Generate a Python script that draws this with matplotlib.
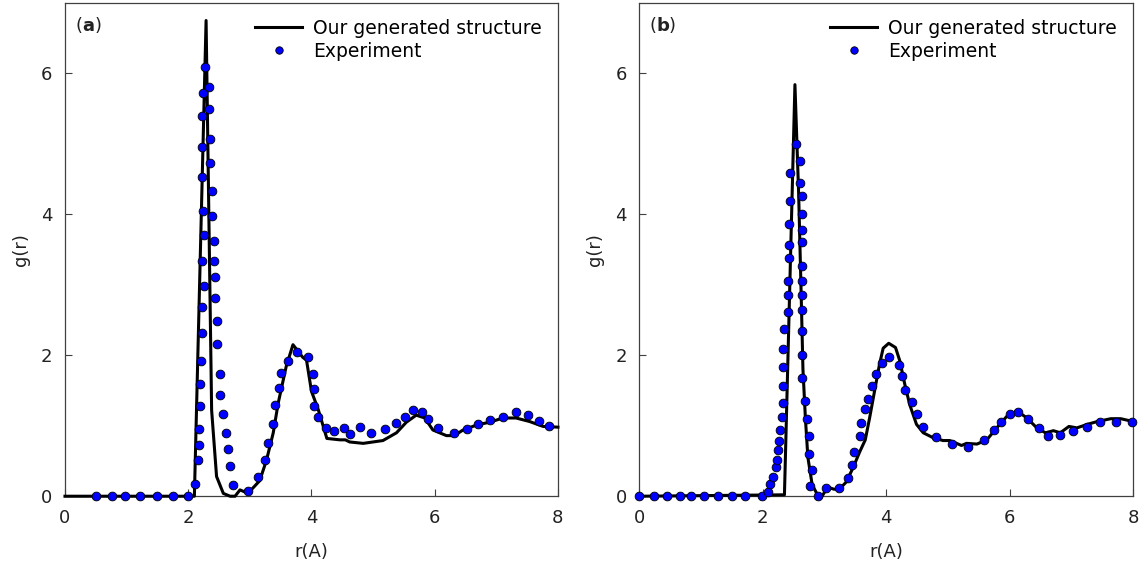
import matplotlib
matplotlib.use("Agg")
import matplotlib.pyplot as plt

# ---------------- panel (a) ----------------
r_sim_a = [0.0, 2.10, 2.29, 2.38, 2.46, 2.57, 2.68, 2.76, 2.84, 2.92, 3.00, 3.16,
           3.27, 3.38, 3.46, 3.59, 3.70, 3.86, 3.92, 4.00, 4.11, 4.25, 4.46, 4.55,
           4.62, 4.84, 5.00, 5.16, 5.38, 5.54, 5.70, 5.84, 5.97, 6.19, 6.32, 6.46,
           6.68, 6.89, 7.11, 7.32, 7.54, 7.76, 8.00]
g_sim_a = [0.0, 0.0, 6.75, 1.22, 0.28, 0.04, 0.0, 0.0, 0.09, 0.06, 0.07, 0.22,
           0.51, 0.90, 1.32, 1.84, 2.15, 1.97, 1.93, 1.49, 1.23, 0.82, 0.80, 0.80,
           0.77, 0.75, 0.77, 0.79, 0.90, 1.05, 1.15, 1.11, 0.94, 0.86, 0.86, 0.94,
           1.01, 1.05, 1.11, 1.11, 1.06, 0.99, 0.98]

r_exp_a = [0.51, 0.76, 0.97, 1.22, 1.49, 1.76, 1.99, 2.11,
           2.16, 2.18, 2.18, 2.19, 2.19, 2.21, 2.22, 2.22, 2.25, 2.23, 2.25, 2.24,
           2.23, 2.23, 2.23, 2.24, 2.28,
           2.34, 2.34, 2.36, 2.36, 2.39, 2.39, 2.42, 2.42, 2.43, 2.44, 2.47, 2.47,
           2.52, 2.52, 2.56, 2.61, 2.65, 2.68, 2.73, 2.97,
           3.14, 3.24, 3.30, 3.38, 3.41, 3.47, 3.51, 3.62, 3.77, 3.95, 4.03, 4.04,
           4.04, 4.11, 4.24, 4.36, 4.53, 4.63, 4.78, 4.97, 5.19, 5.38, 5.52, 5.65,
           5.80, 5.89, 6.05, 6.32, 6.53, 6.70, 6.90, 7.11, 7.32, 7.51, 7.70, 7.85]
g_exp_a = [0.0, 0.0, 0.0, 0.0, 0.0, 0.0, 0.0, 0.18,
           0.51, 0.72, 0.96, 1.28, 1.59, 1.92, 2.31, 2.68, 2.98, 3.34, 3.71, 4.05,
           4.53, 4.95, 5.39, 5.72, 6.09,
           5.81, 5.50, 5.07, 4.73, 4.33, 3.97, 3.62, 3.34, 3.11, 2.81, 2.49, 2.16,
           1.73, 1.43, 1.17, 0.90, 0.67, 0.43, 0.16, 0.08,
           0.27, 0.51, 0.75, 1.02, 1.30, 1.53, 1.75, 1.92, 2.05, 1.98, 1.74, 1.52,
           1.28, 1.12, 0.97, 0.92, 0.97, 0.88, 0.98, 0.90, 0.96, 1.04, 1.12, 1.23,
           1.20, 1.10, 0.97, 0.90, 0.95, 1.03, 1.08, 1.13, 1.19, 1.15, 1.07, 1.00]

# ---------------- panel (b) ----------------
r_sim_b = [0.0, 2.35, 2.52, 2.58, 2.62, 2.65, 2.69, 2.73, 2.80, 2.88, 2.96, 3.05,
           3.15, 3.24, 3.35, 3.46, 3.57, 3.66, 3.73, 3.81, 3.89, 3.95, 4.04, 4.15,
           4.22, 4.30, 4.38, 4.49, 4.60, 4.76, 4.92, 5.03, 5.14, 5.22, 5.30, 5.47,
           5.63, 5.79, 5.95, 6.12, 6.28, 6.44, 6.58, 6.71, 6.82, 6.96, 7.09, 7.26,
           7.42, 7.64, 7.80, 8.00]
g_sim_b = [0.0, 0.02, 5.84, 4.30, 2.90, 1.80, 1.10, 0.55, 0.16, 0.03, 0.0, 0.13,
           0.10, 0.10, 0.20, 0.40, 0.63, 0.80, 1.11, 1.49, 1.87, 2.10, 2.17, 2.11,
           1.92, 1.59, 1.30, 1.02, 0.90, 0.83, 0.79, 0.79, 0.75, 0.72, 0.75, 0.74,
           0.80, 0.97, 1.13, 1.21, 1.11, 0.97, 0.90, 0.93, 0.90, 0.99, 0.97, 1.02,
           1.06, 1.10, 1.10, 1.06]

r_exp_b = [0.0, 0.23, 0.45, 0.65, 0.83, 1.05, 1.28, 1.50, 1.71, 1.98,
           2.09, 2.11, 2.17, 2.22, 2.23, 2.25, 2.26, 2.28, 2.31, 2.32, 2.32, 2.33,
           2.33, 2.35, 2.40, 2.40, 2.41, 2.43, 2.43, 2.43, 2.44, 2.44, 2.53,
           2.60, 2.61, 2.63, 2.63, 2.64, 2.63, 2.63, 2.63, 2.63, 2.63, 2.63, 2.63,
           2.64, 2.68, 2.71, 2.74, 2.74, 2.79, 2.77, 2.90,
           3.03, 3.23, 3.38, 3.44, 3.48, 3.58, 3.59, 3.65, 3.71, 3.77, 3.83, 3.93,
           4.04, 4.21, 4.26, 4.31, 4.42, 4.50, 4.59, 4.81, 5.07, 5.33, 5.58, 5.75,
           5.86, 6.00, 6.13, 6.30, 6.47, 6.62, 6.82, 7.02, 7.26, 7.47, 7.73, 7.99]
g_exp_b = [0.0, 0.0, 0.0, 0.0, 0.0, 0.0, 0.0, 0.0, 0.0, 0.0,
           0.06, 0.17, 0.27, 0.41, 0.52, 0.65, 0.78, 0.94, 1.13, 1.32, 1.57, 1.84,
           2.09, 2.37, 2.62, 2.85, 3.06, 3.38, 3.56, 3.86, 4.19, 4.59, 5.00,
           4.76, 4.44, 4.26, 4.01, 3.78, 3.61, 3.27, 3.06, 2.86, 2.64, 2.34, 2.00,
           1.68, 1.35, 1.09, 0.85, 0.60, 0.37, 0.15, 0.01,
           0.11, 0.11, 0.26, 0.44, 0.63, 0.86, 1.04, 1.24, 1.38, 1.56, 1.74, 1.89,
           1.97, 1.86, 1.70, 1.51, 1.33, 1.16, 0.98, 0.84, 0.74, 0.70, 0.80, 0.94,
           1.06, 1.17, 1.20, 1.10, 0.97, 0.86, 0.87, 0.92, 0.98, 1.05, 1.05, 1.05]

panels = [
    ("a", r_sim_a, g_sim_a, r_exp_a, g_exp_a),
    ("b", r_sim_b, g_sim_b, r_exp_b, g_exp_b),
]

x_ticks = [0, 2, 4, 6, 8]
y_ticks = [0, 2, 4, 6]
sim_label = "Our generated structure"
exp_label = "Experiment"

plt.rcParams["font.family"] = ["DejaVu Sans"]
plt.rcParams["mathtext.fontset"] = "dejavusans"

fig = plt.figure(figsize=(11.48, 5.75), dpi=100)
boxes = [[0.0566, 0.137, 0.4294, 0.858], [0.557, 0.137, 0.430, 0.858]]

spine_color = "#404040"
text_color = "#222222"
for box, (tag, rs, gs, re, ge) in zip(boxes, panels):
    ax = fig.add_axes(box)
    ax.plot(rs, gs, color="black", lw=2.2, label=sim_label, zorder=3,
            clip_on=False)
    ax.plot(re, ge, linestyle="none", marker="o", ms=6.3, mfc="#0000ff",
            mec="black", mew=0.6, label=exp_label, zorder=4, clip_on=False)
    ax.set_xlim(0, 8)
    ax.set_ylim(0, 7)
    ax.set_xticks(x_ticks)
    ax.set_yticks(y_ticks)
    ax.tick_params(direction="in", length=5, width=0.8, color=spine_color,
                   labelsize=13, labelcolor=text_color, pad=9)
    for sp in ax.spines.values():
        sp.set_color(spine_color)
        sp.set_linewidth(0.9)
    ax.set_xlabel("r(A)", fontsize=13, color=text_color, labelpad=12)
    ax.set_ylabel("g(r)", fontsize=13, color=text_color, labelpad=8)
    ax.text(0.02, 0.975, r"($\mathbf{" + tag + r"}$)", transform=ax.transAxes,
            ha="left", va="top", fontsize=13, color=text_color)
    ax.legend(loc="upper right", frameon=False, fontsize=13.5,
              handlelength=2.5, handletextpad=0.6, borderaxespad=0.55,
              borderpad=0.3, labelspacing=0.2, markerscale=0.85)

fig.savefig("out.png", dpi=100)
